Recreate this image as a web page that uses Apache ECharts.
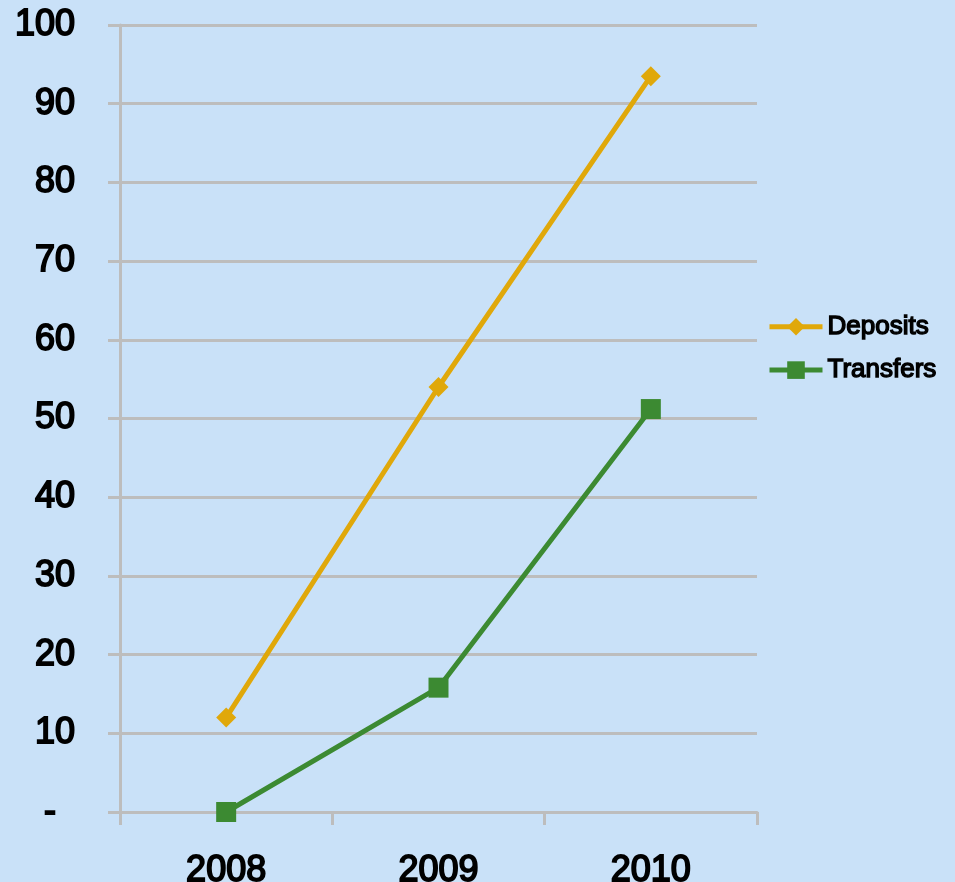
<!DOCTYPE html>
<html><head><meta charset="utf-8">
<script src="https://cdn.jsdelivr.net/npm/echarts@6/dist/echarts.min.js"></script>
<style>html,body{margin:0;padding:0;background:#C9E1F8;}#c{width:955px;height:882px;}</style>
</head><body><div id="c"></div>
<script>
const categories = ['2008', '2009', '2010'];
const deposits = [12, 54, 93.5];
const transfers = [0, 15.8, 51.2];
const yTicks = { min: 0, max: 100, interval: 10 };

const chart = echarts.init(document.getElementById('c'), null, {renderer: 'canvas'});
const gray = '#BDBDBD';
const font = 'Liberation Sans, Arial';
const txt = { fontFamily: font, fontWeight: 'normal', color: '#000', textBorderColor: '#000', textBorderWidth: 1.8 };
chart.setOption({
  backgroundColor: '#C9E1F8',
  animation: false,
  grid: { left: 120, right: 198, top: 25, bottom: 70, containLabel: false, outerBoundsMode: 'none' },
  legend: {
    orient: 'vertical', left: 762, top: 308, itemGap: 16,
    itemWidth: 53, itemHeight: 22,
    lineStyle: { width: 5 },
    textStyle: Object.assign({}, txt, { fontSize: 26, textBorderWidth: 1.4 }),
    data: ['Deposits', 'Transfers']
  },
  xAxis: {
    type: 'category', data: categories, boundaryGap: true,
    axisLine: { lineStyle: { color: gray, width: 3 } },
    axisTick: { show: true, length: 13, lineStyle: { color: gray, width: 3 } },
    axisLabel: Object.assign({}, txt, { margin: 41, fontSize: 36 }),
    splitLine: { show: false }
  },
  yAxis: {
    type: 'value', min: yTicks.min, max: yTicks.max, interval: yTicks.interval,
    axisLine: { show: true, lineStyle: { color: gray, width: 3 } },
    axisTick: { show: true, length: 12, lineStyle: { color: gray, width: 3 } },
    axisLabel: Object.assign({}, txt, { margin: 45, fontSize: 36,
      formatter: v => v === 0 ? '{d|-}' : String(v),
      rich: { d: Object.assign({}, txt, { fontSize: 36, padding: [0, 19, 0, 0] }) } }),
    splitLine: { show: true, lineStyle: { color: gray, width: 3 } }
  },
  series: [
    { name: 'Deposits', type: 'line', data: deposits, color: '#E0A80A',
      lineStyle: { width: 5, color: '#E0A80A' }, symbol: 'diamond', symbolSize: 20,
      itemStyle: { color: '#E0A80A' } },
    { name: 'Transfers', type: 'line', data: transfers, color: '#3C8A32',
      lineStyle: { width: 5, color: '#3C8A32' }, symbol: 'rect', symbolSize: 20,
      itemStyle: { color: '#3C8A32' } }
  ]
});
</script></body></html>
